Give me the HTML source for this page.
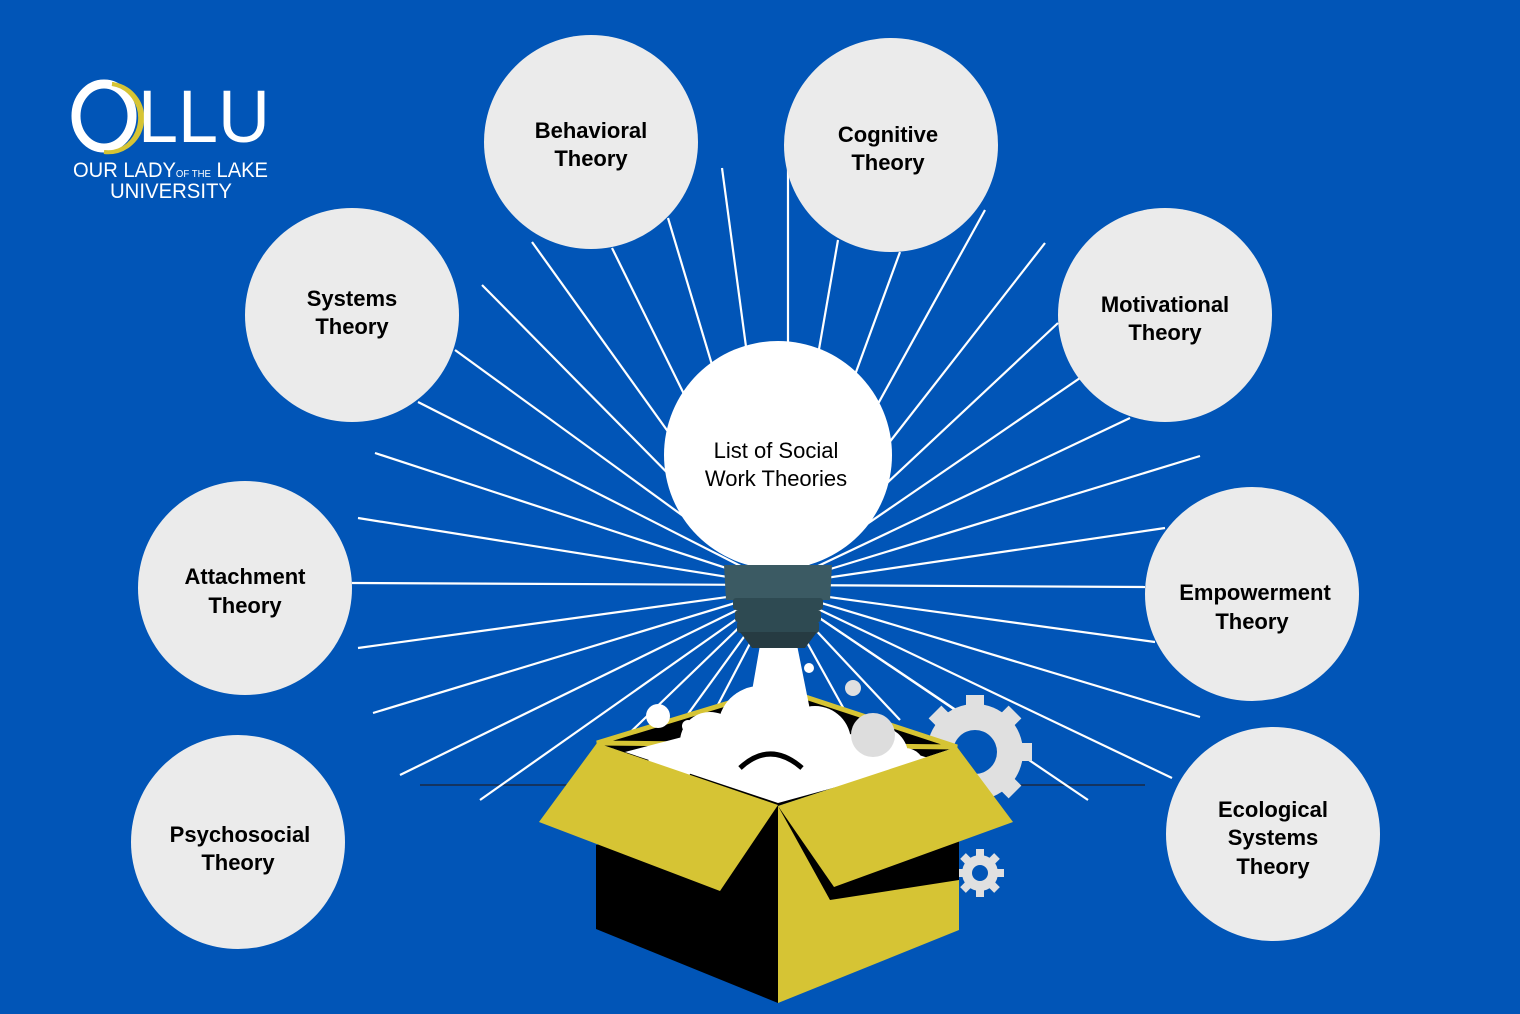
<!DOCTYPE html>
<html><head><style>
body{margin:0;width:1520px;height:1014px;overflow:hidden;background:#0155b7}
svg{display:block}
text{font-family:"Liberation Sans",sans-serif}
.t{font-weight:bold;font-size:22px;fill:#000;text-anchor:middle}
</style></head><body>
<svg width="1520" height="1014" viewBox="0 0 1520 1014">
<rect width="1520" height="1014" fill="#0155b7"/>
<line x1="420" y1="785" x2="1145" y2="785" stroke="#1a2a44" stroke-width="1.5"/>
<g stroke="#fff" stroke-width="2.2">
<line x1="778" y1="585" x2="532" y2="242"/><line x1="778" y1="585" x2="612" y2="248"/>
<line x1="778" y1="585" x2="668" y2="218"/><line x1="778" y1="585" x2="722" y2="168"/>
<line x1="788" y1="585" x2="788" y2="150"/><line x1="778" y1="585" x2="838" y2="240"/>
<line x1="778" y1="585" x2="900" y2="252"/><line x1="778" y1="585" x2="985" y2="210"/>
<line x1="778" y1="585" x2="1045" y2="243"/><line x1="778" y1="585" x2="1058" y2="323"/>
<line x1="778" y1="585" x2="1080" y2="378"/><line x1="778" y1="585" x2="1130" y2="418"/>
<line x1="778" y1="585" x2="1200" y2="456"/><line x1="778" y1="585" x2="1165" y2="528"/>
<line x1="778" y1="585" x2="1145" y2="587"/><line x1="778" y1="590" x2="1155" y2="642"/>
<line x1="778" y1="590" x2="1200" y2="717"/><line x1="778" y1="590" x2="1172" y2="778"/>
<line x1="778" y1="590" x2="1088" y2="800"/><line x1="778" y1="590" x2="1030" y2="760"/>
<line x1="778" y1="585" x2="482" y2="285"/><line x1="778" y1="585" x2="455" y2="350"/>
<line x1="778" y1="585" x2="418" y2="402"/><line x1="778" y1="585" x2="375" y2="453"/>
<line x1="778" y1="585" x2="358" y2="518"/><line x1="778" y1="585" x2="352" y2="583"/>
<line x1="778" y1="590" x2="358" y2="648"/><line x1="778" y1="590" x2="373" y2="713"/>
<line x1="778" y1="590" x2="400" y2="775"/><line x1="778" y1="590" x2="480" y2="800"/>
<line x1="778" y1="590" x2="560" y2="800"/><line x1="778" y1="590" x2="640" y2="780"/>
<line x1="778" y1="590" x2="710" y2="720"/><line x1="778" y1="590" x2="850" y2="720"/>
<line x1="778" y1="590" x2="900" y2="720"/>
</g>
<!-- gears -->
<g fill="#e0e0e0">
<circle cx="975" cy="752" r="48"/>
<g stroke="#e0e0e0" stroke-width="18">
<line x1="975" y1="695" x2="975" y2="809"/><line x1="918" y1="752" x2="1032" y2="752"/>
<line x1="935" y1="712" x2="1015" y2="792"/><line x1="1015" y1="712" x2="935" y2="792"/>
</g>
<circle cx="975" cy="752" r="22" fill="#0155b7"/>
<circle cx="980" cy="873" r="18"/>
<g stroke="#e0e0e0" stroke-width="8">
<line x1="980" y1="849" x2="980" y2="897"/><line x1="956" y1="873" x2="1004" y2="873"/>
<line x1="963" y1="856" x2="997" y2="890"/><line x1="997" y1="856" x2="963" y2="890"/>
</g>
<circle cx="980" cy="873" r="8" fill="#0155b7"/>
</g>
<!-- box interior -->
<polygon points="597,743 778,688 957,747 778,806" fill="#000"/>
<polygon points="597,743 778,688 957,747" fill="none" stroke="#d6c434" stroke-width="5"/>
<g fill="#fff">
<circle cx="710" cy="742" r="30"/><circle cx="760" cy="728" r="42"/><circle cx="815" cy="742" r="36"/>
<circle cx="880" cy="755" r="28"/><circle cx="670" cy="765" r="22"/><circle cx="905" cy="768" r="20"/>
<polygon points="625,752 778,712 935,760 778,803"/>
<polygon points="760,645 797,645 820,760 740,760"/>
<circle cx="658" cy="716" r="12"/><circle cx="688" cy="726" r="6"/><circle cx="809" cy="668" r="5"/>
</g>
<circle cx="873" cy="735" r="22" fill="#ddd"/>
<circle cx="853" cy="688" r="8" fill="#e0e0e0"/>
<path d="M740,768 Q770,740 802,768" stroke="#000" stroke-width="5" fill="none"/>
<!-- box -->
<polygon points="596,845 778,806 778,1003 596,929" fill="#000"/>
<polygon points="778,806 959,845 959,930 778,1003" fill="#d6c434"/>
<polygon points="778,806 959,840 959,880 830,900" fill="#000"/>
<polygon points="539,822 597,743 778,805 720,891" fill="#d6c434"/>
<polygon points="778,806 957,747 1013,822 834,887" fill="#d6c434"/>
<!-- bulb -->
<circle cx="778" cy="455" r="114" fill="#fff"/>
<polygon points="724,565 832,565 830,600 726,600" fill="#3b5a63"/>
<rect x="733" y="598" width="90" height="12" rx="3" fill="#2e4a52"/>
<rect x="735" y="610" width="86" height="12" rx="3" fill="#2e4a52"/>
<rect x="737" y="621" width="82" height="12" rx="3" fill="#2e4a52"/>
<polygon points="740,632 817,632 805,648 752,648" fill="#263b42"/>
<text x="776" y="458" font-size="22" text-anchor="middle" fill="#000">List of Social</text>
<text x="776" y="486" font-size="22" text-anchor="middle" fill="#000">Work Theories</text>
<!-- circles -->
<g fill="#ebebeb">
<circle cx="591" cy="142" r="107"/><circle cx="891" cy="145" r="107"/>
<circle cx="352" cy="315" r="107"/><circle cx="1165" cy="315" r="107"/>
<circle cx="245" cy="588" r="107"/><circle cx="1252" cy="594" r="107"/>
<circle cx="238" cy="842" r="107"/><circle cx="1273" cy="834" r="107"/>
</g>
<text class="t" x="591" y="138">Behavioral</text><text class="t" x="591" y="166">Theory</text>
<text class="t" x="888" y="142">Cognitive</text><text class="t" x="888" y="170">Theory</text>
<text class="t" x="352" y="306">Systems</text><text class="t" x="352" y="334">Theory</text>
<text class="t" x="1165" y="312">Motivational</text><text class="t" x="1165" y="340">Theory</text>
<text class="t" x="245" y="584">Attachment</text><text class="t" x="245" y="613">Theory</text>
<text class="t" x="1255" y="600">Empowerment</text><text class="t" x="1252" y="629">Theory</text>
<text class="t" x="240" y="842">Psychosocial</text><text class="t" x="238" y="870">Theory</text>
<text class="t" x="1273" y="817">Ecological</text><text class="t" x="1273" y="845">Systems</text><text class="t" x="1273" y="874">Theory</text>
<!-- logo -->
<ellipse cx="104" cy="116" rx="28" ry="32" fill="none" stroke="#fff" stroke-width="9"/>
<path d="M112,84 A33,33 0 0 1 104,152 A30,32 0 0 0 112,84Z" fill="#d6c434" stroke="#d6c434" stroke-width="4"/>
<text x="138" y="142" font-size="74" fill="#fff" textLength="132" lengthAdjust="spacingAndGlyphs">LLU</text>
<text x="73" y="177" font-size="21" fill="#fff" textLength="195" lengthAdjust="spacingAndGlyphs">OUR LADY<tspan font-size="10">OF THE</tspan> LAKE</text>
<text x="110" y="198" font-size="21" fill="#fff" textLength="122" lengthAdjust="spacingAndGlyphs">UNIVERSITY</text>
</svg>
</body></html>
